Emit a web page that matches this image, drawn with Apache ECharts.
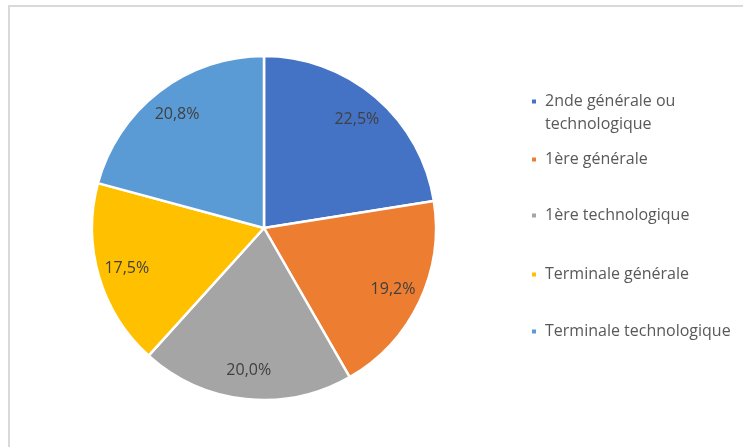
<!DOCTYPE html>
<html>
<head>
<meta charset="utf-8" />
<title>Répartition par niveau</title>
<script src="https://cdn.jsdelivr.net/npm/echarts@6/dist/echarts.min.js"></script>
<style>
    body { margin: 0; background: #fff; }
    .cadre { position: absolute; left: 8px; top: 5px; width: 800px; height: 500px; border: 2px solid #d9d9d9; }
    #main { position: absolute; left: 0; top: 0; width: 743px; height: 447px; }
</style>
</head>
<body>
<div class="cadre"></div>
<div id="main"></div>
<script type="text/javascript">
// données
var niveaux = ['2nde générale ou technologique', '1ère générale', '1ère technologique', 'Terminale générale', 'Terminale technologique'];
var parts = [22.5, 19.2, 20.0, 17.5, 20.8];
var couleurs = ['#4472C4', '#ED7D31', '#A5A5A5', '#FFC000', '#5B9BD5'];

var myChart = echarts.init(document.getElementById('main'));

var pieData = niveaux.map(function (n, i) {
    return { name: n, value: parts[i] };
});

// une légende par entrée, placée comme dans Excel
var legendTops = [67, 148, 204, 263, 320];
var legends = niveaux.map(function (n, i) {
    return {
        data: [n],
        orient: 'vertical',
        left: 530,
        top: legendTops[i],
        icon: 'rect',
        itemWidth: 6,
        itemHeight: 6,
        itemGap: 0,
        padding: 0,
        selectedMode: false,
        formatter: function (name) {
            // ligne vide au-dessus pour que le carré reste sur la 1re ligne
            return name === niveaux[0] ? '\n2nde générale ou\ntechnologique' : name;
        },
        textStyle: {
            fontFamily: 'Open Sans',
            fontSize: 16,
            color: '#595959',
            lineHeight: 23,
            padding: [0, 0, 0, 3]
        }
    };
});

var option = {
    animation: false,
    color: couleurs,
    legend: legends,
    series: [{
        type: 'pie',
        center: [264, 228],
        radius: [0, 172],
        startAngle: 90,
        clockwise: true,
        label: { show: false },
        labelLine: { show: false },
        itemStyle: { borderColor: '#fff', borderWidth: 2.5 },
        emphasis: { disabled: true },
        data: pieData
    }, {
        // anneau invisible pour placer les étiquettes plus loin du centre
        type: 'pie',
        silent: true,
        center: [264, 228],
        radius: [108, 172],
        startAngle: 90,
        clockwise: true,
        itemStyle: { color: 'rgba(0,0,0,0)', borderWidth: 0 },
        label: {
            show: true,
            position: 'inside',
            fontFamily: 'Open Sans',
            fontSize: 16,
            color: '#404040',
            formatter: function (p) {
                return p.value.toFixed(1).replace('.', ',') + '%';
            }
        },
        labelLine: { show: false },
        data: pieData.map(function (d) { return { name: d.name + ' ', value: d.value }; })
    }]
};

myChart.setOption(option);
</script>
</body>
</html>
